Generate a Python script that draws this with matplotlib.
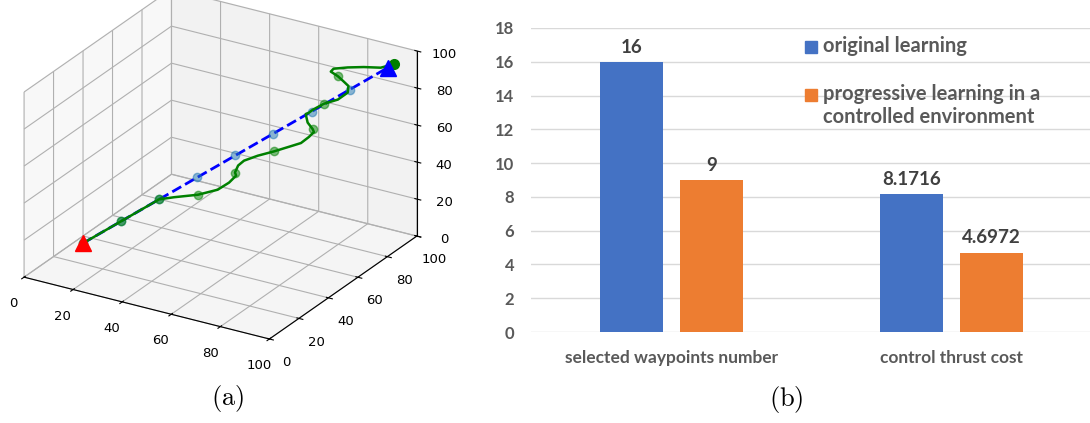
import matplotlib
matplotlib.use("Agg")
import matplotlib.pyplot as plt
from matplotlib.patches import Rectangle

plt.rcParams['mathtext.fontset'] = 'cm'

# ---------------- (a) 3D trajectory ----------------
# straight reference path with evenly spaced waypoints (x = y = z)
ref_xyz = [15, 24.7, 34.4, 44.1, 53.8, 63.5, 73.2, 82.9, 92.6]
start = (15, 15, 15)
goal = (92.6, 92.6, 92.6)

# flown trajectory (x = y along the path, z separately)
traj_xy = [15, 24.7, 34.4, 38.2, 44.3, 49.3, 52.2, 54.0, 53.7, 54.5, 56.0, 59.5,
           63.6, 68.0, 70.5, 72.5, 73.8, 73.5, 72.2, 71.7, 72.5, 73.5, 76.3,
           79.9, 82.4, 82.6, 81.3, 79.9, 78.1, 78.8, 82.4, 86.5, 90.8, 94.1]
traj_z = [15, 24.7, 34.4, 34.7, 34.7, 36.3, 39.5, 42.9, 44.6, 48.2, 50.5, 52.4,
          53.8, 55.7, 56.8, 59.6, 62.0, 63.6, 67.5, 72.2, 72.7, 74.1, 76.7,
          78.2, 81.4, 84.9, 87.8, 90.8, 93.7, 95.1, 95.0, 94.3, 93.0, 94.1]

# trajectory samples at the waypoint times
samp_xy = [15, 24.7, 34.4, 44.3, 53.7, 63.6, 73.5, 76.3, 79.9]
samp_z = [15, 24.7, 34.4, 34.7, 44.6, 53.8, 63.6, 76.7, 90.8]
end_pt = (94.1, 94.1, 94.1)

# ---------------- (b) bar chart ----------------
categories = ['selected waypoints number', 'control thrust cost']
series_names = ['original learning',
                'progressive learning in a\ncontrolled environment']
original = [16, 8.1716]
progressive = [9, 4.6972]
value_labels = [['16', '8.1716'], ['9', '4.6972']]
yticks = [0, 2, 4, 6, 8, 10, 12, 14, 16, 18]

BLUE = '#4472C4'
ORANGE = '#ED7D31'
GRAY = '#595959'
DARK = '#404040'
GRID = '#D9D9D9'

W, H = 1090, 423
fig = plt.figure(figsize=(W / 100, H / 100), dpi=100)

# 3D panel
side = 440
cx, cy = 214.5, 170
ax3 = fig.add_axes([(cx - side / 2) / W, 1 - (cy + side / 2) / H, side / W, side / H],
                   projection='3d', proj_type='ortho')
ax3.view_init(elev=24.8, azim=-59)
ax3.set_box_aspect((4, 4, 2.85))
ax3.plot(ref_xyz, ref_xyz, ref_xyz, 'b--', lw=2)
ax3.plot(ref_xyz, ref_xyz, ref_xyz, 'o', color='C0', alpha=0.5, ms=6)
ax3.plot(traj_xy, traj_xy, traj_z, '-', color='green', lw=1.8)
ax3.plot(samp_xy, samp_xy, samp_z, 'o', color='green', alpha=0.5, ms=6)
ax3.plot([end_pt[0]], [end_pt[1]], [end_pt[2]], 'o', color='green', ms=7)
ax3.plot([start[0]], [start[1]], [start[2]], '^', color='red', ms=12)
ax3.plot([goal[0]], [goal[1]], [goal[2]], '^', color='blue', ms=12)
ax3.set_xlim(0, 100)
ax3.set_ylim(0, 100)
ax3.set_zlim(0, 100)
for axis in (ax3.xaxis, ax3.yaxis, ax3.zaxis):
    axis.set_ticks([0, 20, 40, 60, 80, 100])
ax3.tick_params(labelsize=9.5)

# bar panel
ax = fig.add_axes([531 / W, 1 - 332 / H, 561 / W, 304 / H])
xpos = [0, 1]
bw = 0.2246
off = 0.1426
b1 = ax.bar([p - off for p in xpos], original, bw, color=BLUE, label=series_names[0], zorder=3)
b2 = ax.bar([p + off for p in xpos], progressive, bw, color=ORANGE, label=series_names[1], zorder=3)
for bars, labels in ((b1, value_labels[0]), (b2, value_labels[1])):
    for rect, lab in zip(bars, labels):
        ax.annotate(lab, (rect.get_x() + rect.get_width() / 2, rect.get_height()),
                    xytext=(0, 4.5), textcoords='offset points', ha='center', va='bottom',
                    fontsize=13.5, fontweight='bold', color=DARK, family='Lato')
ax.set_xlim(-0.5, 1.5)
ax.set_ylim(0, 18)
ax.set_yticks(yticks)
ax.set_xticks(xpos)
ax.set_xticklabels(categories)
ax.tick_params(axis='both', length=0, colors=GRAY, labelsize=12)
ax.tick_params(axis='y', pad=12)
ax.tick_params(axis='x', pad=13)
for lab in ax.get_xticklabels():
    lab.set_fontweight('bold')
    lab.set_family('Lato')
    lab.set_fontsize(12.5)
for lab in ax.get_yticklabels():
    lab.set_fontweight('bold')
    lab.set_family('Lato')
ax.grid(axis='y', color=GRID, lw=1, zorder=0)
for s in ax.spines.values():
    s.set_visible(False)

# legend drawn as squares with labels
leg_items = [(BLUE, series_names[0], 47), (ORANGE, series_names[1], 95)]
for col, name, ypx in leg_items:
    fig.add_artist(Rectangle((805 / W, 1 - (ypx + 6) / H), 12 / W, 12 / H,
                             transform=fig.transFigure, color=col))
    fig.text(823 / W, 1 - (ypx - 11) / H, name, ha='left', va='top', fontsize=14.5,
             fontweight='bold', color=GRAY, family='Lato', linespacing=1.2)

fig.text(228 / W, 1 - 398 / H, r'$\mathrm{(a)}$', ha='center', va='center', fontsize=19)
fig.text(786 / W, 1 - 399 / H, r'$\mathrm{(b)}$', ha='center', va='center', fontsize=19)

fig.savefig('out.png', dpi=100)
